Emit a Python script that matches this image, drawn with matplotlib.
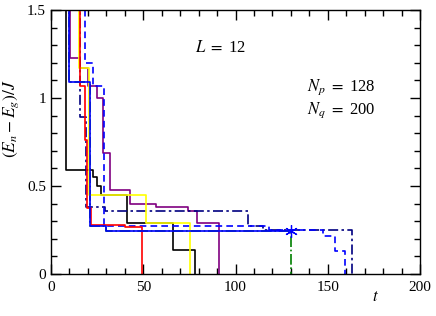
import matplotlib
matplotlib.use("Agg")
import matplotlib.pyplot as plt
from matplotlib.ticker import MultipleLocator

plt.rcParams['font.family'] = ['Liberation Serif', 'DejaVu Serif']
plt.rcParams['mathtext.fontset'] = 'stix'

# step series: time at which each level begins, energy level (E_n - E_g)/J
t_black = [0, 8, 23, 25, 27, 41, 66, 78]
e_black = [2.0, 0.59, 0.55, 0.50, 0.45, 0.29, 0.135, 0.0]

t_green = [0, 10, 21, 30, 130]
e_green = [2.0, 1.09, 0.27, 0.245, 0.0]

t_blue = [0, 10, 21, 30, 130]
e_blue = [2.0, 1.09, 0.27, 0.245, 0.245]

t_red = [0, 15.5, 18.5, 19.5, 21.5, 40, 49.5]
e_red = [2.0, 1.07, 0.76, 0.375, 0.28, 0.265, 0.0]

t_yellow = [0, 15, 20.5, 51.5, 75.5]
e_yellow = [2.0, 1.17, 0.45, 0.29, 0.0]

t_purple = [0, 10.3, 15.7, 20.3, 25, 28, 32, 43, 57, 74, 79, 91]
e_purple = [2.0, 1.23, 1.17, 1.07, 1.0, 0.69, 0.48, 0.40, 0.38, 0.36, 0.29, 0.0]

t_bdash = [0, 18.5, 22.8, 28.5, 118, 147.5, 154, 159.5]
e_bdash = [2.0, 1.2, 1.07, 0.275, 0.25, 0.215, 0.13, 0.0]

t_navy = [0, 15.7, 18.7, 29.3, 107, 115, 163]
e_navy = [2.0, 0.89, 0.38, 0.36, 0.27, 0.25, 0.0]

L_val = 12
Np_val = 128
Nq_val = 200

fig = plt.figure(figsize=(4.36, 3.16), dpi=100)
ax = fig.add_axes([51/436, 1 - 274/316, 369/436, 264/316])

lw = 1.2
ax.plot(t_green, e_green, drawstyle='steps-post', color='#008000', lw=lw, ls='-.')
ax.plot(t_black, e_black, drawstyle='steps-post', color='black', lw=lw)
ax.plot(t_purple, e_purple, drawstyle='steps-post', color='#800080', lw=lw)
ax.plot(t_navy, e_navy, drawstyle='steps-post', color='#000080', lw=lw,
        dashes=(6, 2, 1.5, 2))
ax.plot(t_bdash, e_bdash, drawstyle='steps-post', color='#0000ff', lw=lw,
        dashes=(4, 2.5))
ax.plot(t_yellow, e_yellow, drawstyle='steps-post', color='#ffff00', lw=lw)
ax.plot(t_red, e_red, drawstyle='steps-post', color='#ff0000', lw=lw)
ax.plot(t_blue, e_blue, drawstyle='steps-post', color='#0000ff', lw=lw)
ax.plot(t_blue[-1:], e_blue[-1:], ls='none', marker=(6, 2, 0), ms=9,
        mew=0.9, color='#0000ff')

ax.set_xlim(0, 200)
ax.set_ylim(0, 1.5)
ax.xaxis.set_major_locator(MultipleLocator(50))
ax.xaxis.set_minor_locator(MultipleLocator(10))
ax.yaxis.set_major_locator(MultipleLocator(0.5))
ax.yaxis.set_minor_locator(MultipleLocator(0.1))
ax.set_yticks([0, 0.5, 1, 1.5])
ax.set_yticklabels(['0', '0.5', '1', '1.5'])
ax.tick_params(which='both', direction='in', top=True, right=True,
               labelsize=11, width=1.0)
ax.tick_params(which='major', length=7)
ax.tick_params(which='minor', length=4)
ax.tick_params(axis='x', pad=5)
for s in ax.spines.values():
    s.set_linewidth(1.0)

ax.set_xlabel('$t$', fontsize=12)
ax.xaxis.set_label_coords((375 - 51) / 369, -0.055)
ax.set_ylabel(r'$(E_n - E_g)/J$', fontsize=12.5)
ax.yaxis.set_label_coords(-0.08, 0.59)

ax.text(92, 1.285, r'$L\ =\ $' + f'{L_val}', fontsize=12, ha='center', va='center')
ax.text(139, 1.06, r'$N_p\ =\ $' + f'{Np_val}', fontsize=12, ha='left', va='center')
ax.text(139, 0.93, r'$N_q\ =\ $' + f'{Nq_val}', fontsize=12, ha='left', va='center')

fig.savefig('out.png', dpi=100)
